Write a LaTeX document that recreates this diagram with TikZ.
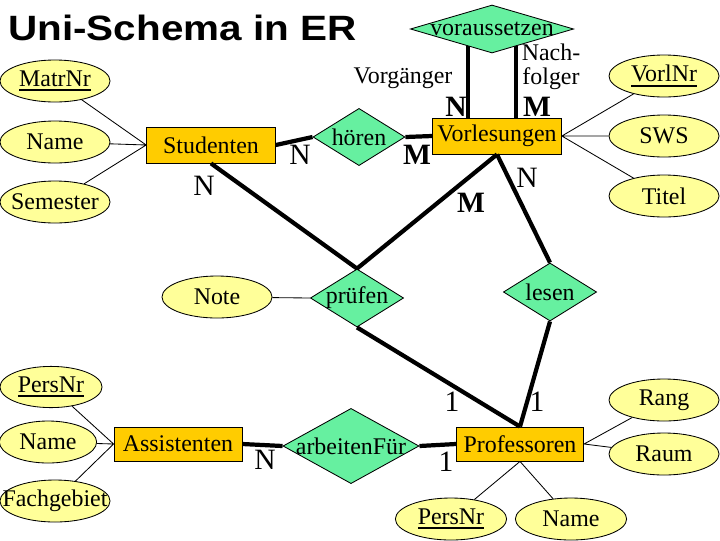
\documentclass[tikz,border=0pt]{standalone}
\usepackage{fontspec}
\setmainfont{Liberation Serif}
\newfontfamily\titlefont{Liberation Sans}
\usetikzlibrary{shapes.geometric,calc,backgrounds}
\definecolor{attrfill}{RGB}{255,255,153}
\definecolor{entfill}{RGB}{255,204,0}
\definecolor{relfill}{RGB}{102,240,160}
\newsavebox{\keybox}
\newcommand{\inbox}[1]{\makebox[0pt]{#1}}
\newcommand{\keyattr}[1]{\sbox{\keybox}{#1}\rlap{\rule[-3.5pt]{\wd\keybox}{1.4pt}}\usebox{\keybox}}

\tikzset{
  attr/.style={ellipse,draw,line width=0.6pt,fill=attrfill,inner sep=0pt,
    minimum width=2.75cm,minimum height=1.05cm,font=\fontsize{17}{20}\selectfont},
  entity/.style={rectangle,draw,line width=0.6pt,fill=entfill,inner sep=0pt,
    minimum width=3.22cm,minimum height=0.9cm,font=\fontsize{17}{20}\selectfont},
  rel/.style={diamond,draw,line width=0.6pt,fill=relfill,inner sep=0pt,
    font=\fontsize{17}{20}\selectfont},
  card/.style={inner sep=0pt,font=\fontsize{21}{24}\selectfont},
  cardb/.style={card,font=\fontsize{21}{24}\selectfont\bfseries},
  role/.style={inner sep=0pt,align=center,font=\fontsize{17}{17}\selectfont},
  attrline/.style={line width=0.6pt},
  relline/.style={line width=3pt}
}

\begin{document}
\begin{tikzpicture}[x=0.025cm,y=-0.025cm]
  \useasboundingbox (0,0) rectangle (720,540);

  \node[anchor=base west,inner sep=0pt] (title) at (8,40)
    {\titlefont\bfseries\fontsize{25}{30}\selectfont\scalebox{1.15}[1]{Uni-Schema in ER}};

  % Studenten
  \node[attr] (MatrNr) at (55,81) {\inbox{\keyattr{MatrNr}}};
  \node[attr] (NameS) at (55,142) {\inbox{Name}};
  \node[attr] (Semester) at (55,202) {\inbox{Semester}};
  \node[entity] (Studenten) at (211,145) {Studenten};

  % Vorlesungen
  \node[entity] (Vorlesungen) at (497,136) {Vorlesungen};
  \node[rel,minimum width=4.08cm,minimum height=1.2cm] (voraussetzen) at (492,29)
    {\inbox{voraussetzen}};
  \node[attr] (VorlNr) at (664,76) {\inbox{\keyattr{VorlNr}}};
  \node[attr] (SWS) at (664,136) {\inbox{SWS}};
  \node[attr] (Titel) at (664,196) {\inbox{Titel}};

  \node[rel,minimum width=2.3cm,minimum height=1.43cm] (hoeren) at (359,137) {\inbox{hören}};

  % pruefen, lesen
  \node[attr] (Note) at (217,297) {\inbox{Note}};
  \node[rel,minimum width=2.33cm,minimum height=1.45cm] (pruefen) at (357,298) {\inbox{prüfen}};
  \node[rel,minimum width=2.33cm,minimum height=1.45cm] (lesen) at (550,292) {\inbox{lesen}};

  % Assistenten, Professoren
  \node[attr,minimum width=2.55cm,minimum height=1.03cm] (PersNrA) at (51,387) {\inbox{\keyattr{PersNr}}};
  \node[attr,minimum width=2.43cm] (NameA) at (48,442) {\inbox{Name}};
  \node[attr] (Fachgebiet) at (55,501) {\inbox{Fachgebiet}};
  \node[entity,minimum width=3.2cm,minimum height=0.85cm] (Assistenten) at (178,444) {Assistenten};
  \node[rel,minimum width=3.4cm,minimum height=1.88cm] (arbeitenFuer) at (351,446) {\inbox{arbeitenFür}};
  \node[entity,minimum width=3.18cm,minimum height=0.85cm] (Professoren) at (520,444) {Professoren};
  \node[attr] (Rang) at (664,400) {\inbox{Rang}};
  \node[attr] (Raum) at (664,454) {\inbox{Raum}};
  \node[attr,minimum width=2.78cm] (PersNrP) at (451,519) {\inbox{\keyattr{PersNr}}};
  \node[attr,minimum width=2.78cm] (NameP) at (571,519) {\inbox{Name}};

  % attribute lines
  \draw[attrline] (MatrNr) -- (Studenten.west)
    (NameS) -- (Studenten.west)
    (Semester) -- (Studenten.west);
  \draw[attrline] (VorlNr) -- (Vorlesungen.east)
    (SWS) -- (Vorlesungen.east)
    (Titel) -- (Vorlesungen.east);
  \draw[attrline] (Note) -- (pruefen.west);
  \draw[attrline] (PersNrA) -- (Assistenten.west)
    (NameA) -- (Assistenten.west)
    (Fachgebiet) -- (Assistenten.west);
  \draw[attrline] (Rang) -- (Professoren.east)
    (Raum) -- (Professoren.east)
    (PersNrP) -- (Professoren.south)
    (NameP) -- (Professoren.south);

  % relationship lines
  \draw[relline] (Studenten.east) -- (hoeren.west);
  \draw[relline] (hoeren.east) -- (Vorlesungen.west);
  \draw[relline] (Studenten.south) -- (pruefen.north);
  \draw[relline] (Vorlesungen.south) -- (pruefen.north);
  \draw[relline] (Vorlesungen.south) -- (lesen.north);
  \draw[relline] (pruefen.south) -- (Professoren.north);
  \draw[relline] (lesen.south) -- (Professoren.north);
  \draw[relline] (Assistenten.east) -- (arbeitenFuer.west);
  \draw[relline] (arbeitenFuer.east) -- (Professoren.west);

  \coordinate (vgA) at ($(voraussetzen.center)+(-24,0)$);
  \coordinate (vgB) at ($(voraussetzen.center)+(24,0)$);
  \begin{scope}[on background layer]
    \draw[relline] (vgA) -- (vgA |- Vorlesungen.north);
    \draw[relline] (vgB) -- (vgB |- Vorlesungen.north);
  \end{scope}

  % roles and cardinalities
  \node[role] (Vorgaenger) at (403,78) {Vorgänger};
  \node[role] (Nachfolger) at (551,67) {Nach-\\folger};
  \node[cardb] (cVg) at (456,107) {N};
  \node[cardb] (cNf) at (537,107) {M};
  \node[card] (cSh) at (300,155) {N};
  \node[cardb] (cHv) at (417,155) {M};
  \node[card] (cSp) at (204,186) {N};
  \node[cardb] (cVp) at (471,203) {M};
  \node[card] (cVl) at (527,178) {N};
  \node[card] (cPp) at (452,402) {1};
  \node[card] (cPl) at (537,402) {1};
  \node[card] (cPa) at (446,462) {1};
  \node[card] (cAa) at (265,460) {N};
\end{tikzpicture}
\end{document}
